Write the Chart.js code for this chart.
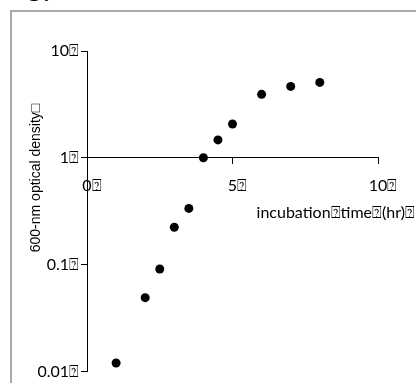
<!DOCTYPE html>
<html>
<head>
<meta charset="utf-8">
<script src="https://cdn.jsdelivr.net/npm/chart.js@4/dist/chart.umd.min.js"></script>
<style>
  html, body { margin: 0; padding: 0; background: #fff; }
  #wrap { position: relative; width: 416px; height: 383px; overflow: hidden; background: #fff; }
  #label { position: absolute; left: 24px; top: -23px; font: 26px "Liberation Sans", Arial, sans-serif; color: #000; }
  canvas { position: absolute; left: 0; top: 0; }
</style>
</head>
<body>
<div id="wrap">
  <div id="label">C.</div>
  <canvas id="chart" width="416" height="383"></canvas>
</div>
<script>
const MARK = "\u2370";
const hours = [1, 2, 2.5, 3, 3.5, 4, 4.5, 5, 6, 7, 8];
const density = [0.012, 0.049, 0.091, 0.224, 0.336, 1.0, 1.47, 2.07, 3.93, 4.66, 5.08];
const yTicks = [0.01, 0.1, 1, 10];
const yTickLabels = ["0.01", "0.1", "1", "10"];
const xTicks = [0, 5, 10];
const xTitle = "incubation" + MARK + "time" + MARK + "(hr)" + MARK;
const yTitle = "600-nm optical density\u25A1";

const tickFont = { family: "Lato, 'Open Sans', sans-serif", size: 16 };

// panel edge, left and top only
const frame = {
  id: "panelEdge",
  beforeDraw(chart) {
    const ctx = chart.ctx;
    ctx.save();
    ctx.fillStyle = "#a9a9a9";
    ctx.fillRect(10, 10, 2, 383);
    ctx.fillRect(10, 10, 410, 2);
    ctx.restore();
  }
};

const titles = {
  id: "titles",
  afterDraw(chart) {
    const ctx = chart.ctx;
    const xs = chart.scales.x;
    ctx.save();
    ctx.fillStyle = "#000";
    ctx.font = "16px Lato, 'Open Sans', sans-serif";
    ctx.textAlign = "right";
    ctx.textBaseline = "middle";
    ctx.fillText(xTitle, xs.getPixelForValue(10) + 37, 213);
    ctx.translate(36, 178);
    ctx.rotate(-Math.PI / 2);
    ctx.textAlign = "center";
    ctx.font = "14px 'Liberation Sans', Arial, sans-serif";
    ctx.fillText(yTitle, 0, 0);
    ctx.restore();
  }
};

new Chart(document.getElementById("chart"), {
  type: "scatter",
  data: {
    datasets: [{
      data: hours.map((h, i) => ({ x: h, y: density[i] })),
      backgroundColor: "#000",
      borderColor: "#000",
      pointStyle: "circle",
      pointRadius: 4.5,
      borderWidth: 0
    }]
  },
  options: {
    responsive: false,
    animation: false,
    layout: { padding: { left: 0, top: 51, right: 38, bottom: 9 } },
    plugins: { legend: { display: false }, tooltip: { enabled: false } },
    scales: {
      x: {
        type: "linear",
        position: { y: 1 },
        min: 0,
        max: 10,
        afterBuildTicks(scale) { scale.ticks = xTicks.map(v => ({ value: v })); },
        ticks: {
          color: "#000",
          font: tickFont,
          padding: 12,
          labelOffset: 5,
          maxRotation: 0,
          callback: (v) => v + MARK
        },
        grid: { drawOnChartArea: false, drawTicks: true, tickLength: 6, color: "#000" },
        border: { color: "#000", width: 1 }
      },
      y: {
        type: "logarithmic",
        position: "left",
        min: 0.01,
        max: 10,
        afterFit(scale) { scale.width = 87; },
        afterBuildTicks(scale) { scale.ticks = yTicks.map(v => ({ value: v })); },
        ticks: {
          color: "#000",
          font: tickFont,
          padding: 2,
          callback: (v) => yTickLabels[yTicks.indexOf(v)] + MARK
        },
        grid: { drawOnChartArea: false, drawTicks: true, tickLength: 6, color: "#000" },
        border: { color: "#000", width: 1 }
      }
    }
  },
  plugins: [frame, titles]
});
</script>
</body>
</html>
